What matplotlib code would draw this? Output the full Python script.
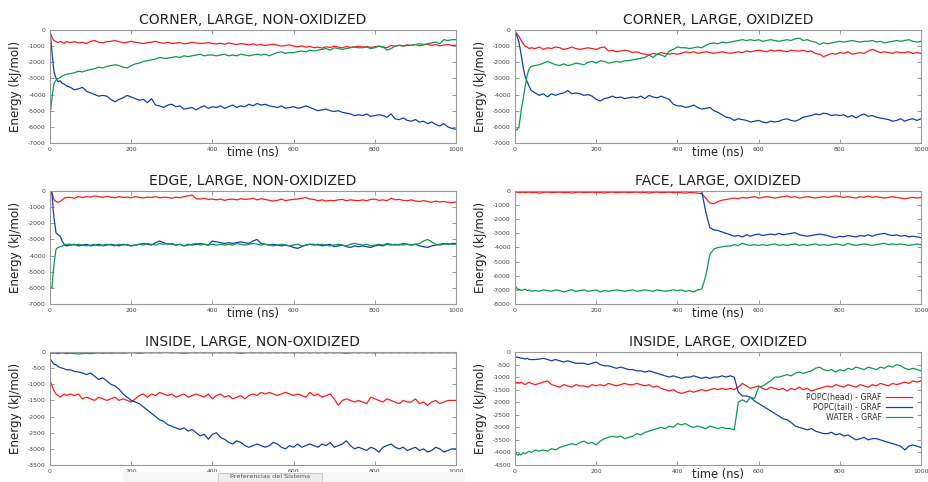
import numpy as np
import matplotlib
matplotlib.use("Agg")
import matplotlib.pyplot as plt
from matplotlib.patches import Rectangle

plt.rcParams['axes.unicode_minus'] = False
plt.rcParams['font.family'] = ['DejaVu Sans']

# time axis (ns): dense start, then every 10 ns
t_early = [0, 2, 5, 8, 10, 15, 20, 25, 30, 35, 40]
time = np.array(t_early + list(range(50, 1001, 10)))

labels = ["POPC(head) - GRAF", "POPC(tail) - GRAF", "WATER - GRAF"]
titles = ["CORNER, LARGE, NON-OXIDIZED", "CORNER, LARGE, OXIDIZED",
          "EDGE, LARGE, NON-OXIDIZED", "FACE, LARGE, OXIDIZED",
          "INSIDE, LARGE, NON-OXIDIZED", "INSIDE, LARGE, OXIDIZED"]
ylims = [(-7000, 0), (-7000, 0), (-7000, 0), (-8000, 0), (-3500, 0), (-4500, 0)]
ysteps = [1000, 1000, 1000, 1000, 500, 500]

# ---- CORNER, NON-OXIDIZED ----
cnl_head = [-100, -250, -450, -600, -650, -720, -780, -700, -760, -820, -720,
   -780, -720, -800, -760, -840, -700, -650, -760, -800, -720, -700, -650,
   -720, -800, -760, -700, -760, -800, -840, -780, -760, -700, -780, -820,
   -760, -840, -800, -780, -860, -820, -760, -800, -840, -820, -780, -840,
   -860, -820, -880, -800, -860, -900, -840, -880, -920, -860, -940, -900,
   -960, -920, -880, -940, -1000, -960, -920, -1000, -1040, -980, -1060, -1020,
   -1100, -1060, -1120, -1040, -1080, -1000, -1060, -1100, -1020, -1080, -1040, -1000,
   -1060, -1020, -1080, -1040, -1000, -1060, -1100, -960, -1000, -940, -980, -920,
   -960, -900, -980, -920, -880, -960, -900, -980, -940, -900, -960, -940]
cnl_tail = [-100, -600, -1400, -2200, -2600, -3000, -3200, -3150, -3300, -3350, -3450,
   -3550, -3700, -3650, -3550, -3800, -3900, -4000, -4100, -4050, -4100, -4300, -4450,
   -4300, -4200, -4050, -4150, -4250, -4350, -4300, -4500, -4250, -4650, -4700, -4800,
   -4650, -4600, -4750, -4700, -4900, -4850, -4800, -4950, -4800, -4700, -4850, -4750,
   -4800, -4700, -4850, -4750, -4650, -4800, -4700, -4750, -4600, -4700, -4550, -4650,
   -4600, -4700, -4750, -4800, -4700, -4850, -4800, -4750, -4850, -4800, -4700, -4800,
   -4900, -5000, -4950, -4900, -5000, -5050, -5000, -5100, -5150, -5200, -5300, -5250,
   -5300, -5200, -5350, -5300, -5250, -5300, -5400, -5200, -5500, -5550, -5450, -5600,
   -5650, -5550, -5700, -5650, -5800, -5700, -5850, -5950, -5800, -6000, -6100, -6150]
cnl_water = [-5450, -4900, -4200, -3600, -3300, -3100, -3000, -2950, -2850, -2800, -2750,
   -2700, -2650, -2550, -2600, -2500, -2450, -2400, -2300, -2350, -2250, -2200, -2150,
   -2200, -2300, -2350, -2200, -2100, -2050, -1950, -1900, -1850, -1800, -1700, -1750,
   -1750, -1700, -1650, -1700, -1600, -1650, -1600, -1550, -1500, -1600, -1550, -1550,
   -1600, -1550, -1500, -1600, -1550, -1600, -1500, -1550, -1600, -1550, -1500, -1550,
   -1500, -1600, -1500, -1400, -1350, -1450, -1400, -1400, -1350, -1300, -1350, -1250,
   -1300, -1250, -1200, -1150, -1250, -1100, -1150, -1200, -1150, -1100, -1050, -1100,
   -1100, -1050, -1150, -1100, -1000, -1050, -1250, -1150, -1000, -950, -1000, -950,
   -950, -900, -850, -900, -850, -800, -750, -850, -600, -650, -600, -600]

# ---- CORNER, OXIDIZED ----
clo_head = [-100, -150, -250, -350, -400, -650, -850, -1000, -1050, -1150, -1100,
   -1150, -1050, -1200, -1100, -1150, -1050, -1100, -1200, -1150, -1050, -1150, -1200,
   -1150, -1100, -1150, -1200, -1100, -1050, -1300, -1250, -1350, -1300, -1250, -1300,
   -1400, -1350, -1450, -1500, -1550, -1450, -1500, -1400, -1450, -1500, -1450, -1500,
   -1450, -1350, -1400, -1350, -1450, -1400, -1350, -1400, -1450, -1400, -1350, -1400,
   -1450, -1400, -1350, -1400, -1300, -1350, -1300, -1250, -1300, -1350, -1250, -1300,
   -1250, -1300, -1350, -1250, -1300, -1300, -1250, -1350, -1300, -1450, -1500, -1650,
   -1550, -1450, -1500, -1400, -1450, -1350, -1500, -1450, -1400, -1450, -1300, -1200,
   -1300, -1400, -1350, -1400, -1450, -1350, -1400, -1400, -1350, -1450, -1400, -1450]
clo_tail = [-100, -200, -400, -600, -800, -1500, -2300, -2900, -3200, -3500, -3750,
   -3900, -4050, -3950, -4150, -3950, -4050, -3950, -3900, -3750, -3950, -3900, -3950,
   -4050, -4000, -4100, -4300, -4400, -4250, -4200, -4100, -4200, -4150, -4250, -4200,
   -4150, -4200, -4100, -4250, -4050, -4150, -4200, -4100, -4200, -4300, -4600, -4700,
   -4700, -4800, -4750, -4650, -4800, -4900, -4850, -4800, -5000, -5100, -5250, -5400,
   -5450, -5600, -5500, -5550, -5600, -5700, -5650, -5600, -5700, -5750, -5650, -5700,
   -5650, -5550, -5500, -5600, -5650, -5550, -5400, -5350, -5300, -5200, -5250, -5150,
   -5200, -5300, -5250, -5300, -5250, -5400, -5300, -5450, -5300, -5200, -5350, -5300,
   -5400, -5450, -5500, -5550, -5650, -5600, -5500, -5650, -5550, -5500, -5600, -5500]
clo_water = [-6100, -6150, -6200, -6050, -6000, -5000, -4300, -3500, -2800, -2400, -2250,
   -2200, -2150, -2050, -1950, -2050, -2150, -2200, -2100, -2200, -2150, -2050, -2100,
   -2150, -2000, -1950, -2050, -1900, -1950, -2050, -2000, -1950, -2000, -1900, -1900,
   -1850, -1800, -1750, -1700, -1550, -1700, -1500, -1550, -1650, -1300, -1200, -1050,
   -1100, -1100, -1150, -1100, -1050, -1100, -950, -850, -800, -850, -750, -800,
   -750, -700, -650, -600, -650, -600, -650, -600, -700, -650, -600, -650,
   -700, -650, -600, -650, -550, -500, -650, -600, -700, -750, -900, -800,
   -850, -800, -750, -700, -750, -700, -650, -700, -750, -700, -700, -650,
   -750, -700, -800, -750, -700, -650, -700, -650, -600, -700, -750, -700]

# ---- EDGE, NON-OXIDIZED ----
enl_head = [0, -50, -100, -400, -550, -650, -700, -650, -550, -450, -400,
   -400, -450, -350, -400, -350, -380, -300, -350, -400, -330, -380, -420,
   -350, -400, -380, -420, -350, -400, -430, -380, -400, -350, -420, -380,
   -400, -450, -380, -420, -350, -300, -250, -480, -500, -450, -520, -500,
   -550, -500, -580, -520, -500, -550, -480, -520, -500, -450, -550, -480,
   -520, -580, -620, -580, -500, -600, -550, -520, -500, -450, -400, -500,
   -520, -600, -550, -620, -580, -600, -550, -520, -600, -550, -580, -600,
   -550, -600, -520, -500, -580, -550, -600, -450, -550, -520, -580, -600,
   -550, -620, -650, -600, -650, -700, -620, -680, -650, -700, -720, -680]
enl_tail = [0, 0, -200, -1200, -1700, -2600, -2700, -2800, -3100, -3300, -3400,
   -3350, -3300, -3400, -3350, -3300, -3400, -3350, -3300, -3400, -3350, -3300, -3350,
   -3400, -3300, -3350, -3400, -3350, -3300, -3250, -3300, -3350, -3200, -3100, -3200,
   -3300, -3250, -3350, -3300, -3400, -3300, -3350, -3300, -3250, -3300, -3350, -3100,
   -3150, -3200, -3250, -3200, -3250, -3200, -3150, -3200, -3250, -3100, -3000, -3250,
   -3300, -3350, -3300, -3350, -3400, -3350, -3400, -3500, -3550, -3450, -3350, -3300,
   -3350, -3300, -3400, -3350, -3300, -3450, -3400, -3350, -3450, -3500, -3400, -3450,
   -3400, -3450, -3500, -3400, -3350, -3400, -3300, -3350, -3300, -3350, -3250, -3300,
   -3350, -3300, -3400, -3450, -3500, -3400, -3350, -3300, -3250, -3300, -3250, -3250]
enl_water = [-5900, -6000, -6000, -5000, -4500, -3600, -3500, -3450, -3400, -3350, -3300,
   -3300, -3350, -3300, -3350, -3400, -3350, -3300, -3400, -3350, -3300, -3350, -3400,
   -3300, -3350, -3300, -3400, -3350, -3300, -3350, -3250, -3300, -3350, -3250, -3300,
   -3250, -3300, -3350, -3300, -3400, -3350, -3300, -3250, -3350, -3300, -3350, -3300,
   -3350, -3300, -3350, -3300, -3350, -3250, -3300, -3350, -3300, -3250, -3300, -3350,
   -3300, -3350, -3400, -3350, -3300, -3350, -3400, -3350, -3300, -3400, -3350, -3300,
   -3300, -3350, -3300, -3350, -3400, -3350, -3300, -3350, -3400, -3300, -3250, -3300,
   -3350, -3300, -3400, -3350, -3300, -3350, -3250, -3300, -3350, -3300, -3350, -3300,
   -3350, -3300, -3250, -3100, -3000, -3150, -3300, -3350, -3300, -3250, -3300, -3300]

# ---- FACE, OXIDIZED ----
flo_head = [-50, -80, -100, -80, -120, -100, -80, -120, -100, -80, -120,
   -100, -150, -100, -80, -120, -100, -80, -120, -100, -150, -100, -80,
   -120, -100, -80, -120, -100, -140, -100, -80, -120, -100, -80, -120,
   -100, -80, -120, -100, -140, -100, -80, -120, -100, -80, -120, -100,
   -120, -150, -100, -120, -150, -200, -500, -850, -900, -750, -650, -600,
   -550, -500, -550, -450, -500, -450, -400, -500, -450, -400, -450, -500,
   -450, -400, -350, -450, -400, -500, -450, -400, -450, -500, -450, -400,
   -450, -400, -350, -400, -450, -400, -450, -500, -400, -450, -350, -450,
   -400, -450, -500, -450, -400, -450, -500, -550, -500, -450, -500, -450]
flo_tail = [-20, -20, -20, -20, -20, -20, -20, -20, -20, -20, -20,
   -20, -20, -20, -20, -20, -20, -20, -20, -20, -20, -20, -20,
   -20, -20, -20, -20, -20, -20, -20, -20, -20, -20, -20, -20,
   -20, -20, -20, -20, -20, -20, -20, -20, -20, -20, -20, -20,
   -20, -20, -20, -20, -20, -50, -1500, -2600, -2750, -2800, -2900, -3000,
   -3100, -3200, -3150, -3250, -3100, -3200, -3100, -3050, -3150, -3100, -3050, -3100,
   -3000, -3100, -3050, -3000, -2950, -3100, -3150, -3200, -3150, -3100, -3050, -3100,
   -3150, -3250, -3300, -3200, -3250, -3150, -3200, -3250, -3150, -3200, -3100, -3200,
   -3100, -3050, -3000, -3100, -3150, -3100, -3200, -3150, -3250, -3200, -3250, -3300]
flo_water = [-6600, -6800, -6900, -7000, -6950, -7050, -7000, -6950, -7050, -7000, -7100,
   -7050, -7100, -7000, -7050, -7100, -7000, -7050, -7150, -7050, -7000, -7100, -7050,
   -7000, -7100, -7050, -7000, -7150, -7050, -7100, -7050, -7000, -7050, -7100, -7050,
   -7000, -7100, -7050, -7000, -7050, -7100, -7000, -7050, -7100, -7050, -7000, -7050,
   -7000, -7100, -7050, -7150, -7000, -6950, -6000, -4500, -4100, -4000, -3950, -3900,
   -3900, -3800, -3850, -3700, -3800, -3850, -3800, -3850, -3800, -3850, -3800, -3750,
   -3850, -3800, -3850, -3800, -3750, -3850, -3800, -3850, -3800, -3750, -3850, -3800,
   -3850, -3800, -3750, -3800, -3850, -3700, -3800, -3850, -3800, -3750, -3800, -3850,
   -3800, -3750, -3700, -3800, -3750, -3800, -3750, -3800, -3850, -3800, -3750, -3800]

# ---- INSIDE, NON-OXIDIZED ----
inl_head = [-900, -950, -1050, -1150, -1200, -1300, -1350, -1400, -1350, -1300, -1350,
   -1300, -1350, -1300, -1450, -1400, -1450, -1500, -1400, -1450, -1500, -1450, -1400,
   -1500, -1450, -1500, -1550, -1450, -1350, -1300, -1400, -1300, -1350, -1250, -1300,
   -1350, -1300, -1400, -1350, -1300, -1400, -1350, -1300, -1350, -1400, -1300, -1450,
   -1350, -1300, -1400, -1350, -1450, -1400, -1350, -1450, -1350, -1300, -1350, -1250,
   -1300, -1250, -1300, -1350, -1300, -1250, -1300, -1350, -1300, -1350, -1400, -1250,
   -1350, -1300, -1400, -1350, -1300, -1450, -1650, -1500, -1450, -1500, -1550, -1500,
   -1550, -1600, -1400, -1450, -1500, -1550, -1450, -1500, -1550, -1600, -1500, -1550,
   -1550, -1450, -1600, -1550, -1650, -1550, -1500, -1600, -1550, -1500, -1500, -1500]
inl_tail = [-150, -250, -300, -350, -380, -400, -450, -480, -500, -520, -550,
   -550, -600, -620, -650, -700, -650, -750, -850, -800, -900, -1000, -1050,
   -1150, -1300, -1400, -1500, -1550, -1600, -1700, -1800, -1900, -2000, -2100, -2150,
   -2250, -2300, -2350, -2400, -2350, -2450, -2400, -2500, -2600, -2550, -2700, -2550,
   -2500, -2650, -2700, -2800, -2850, -2750, -2800, -2900, -2950, -2900, -2850, -2900,
   -2950, -2900, -2800, -2850, -2950, -3000, -2900, -2950, -2850, -2950, -2900, -2850,
   -2900, -2950, -2850, -2900, -2800, -2950, -2900, -2850, -2750, -2900, -3000, -2950,
   -3000, -3050, -2950, -3000, -3100, -2950, -2900, -2850, -2950, -3000, -2950, -3050,
   -3000, -2950, -3050, -3000, -3100, -3050, -2950, -3000, -3100, -3050, -3000, -3000]
inl_water = [-30, -30, -40, -40, -30, -40, -50, -40, -30, -40, -50,
   -40, -50, -60, -50, -40, -50, -40, -30, -40, -30, -40, -30,
   -30, -40, -30, -20, -30, -40, -30, -20, -30, -20, -30, -20,
   -20, -30, -20, -30, -40, -30, -20, -30, -20, -30, -20, -30,
   -20, -30, -20, -30, -20, -30, -40, -30, -20, -30, -20, -30,
   -20, -30, -20, -30, -20, -30, -20, -30, -20, -30, -20, -30,
   -20, -30, -20, -30, -20, -30, -20, -30, -40, -30, -20, -30,
   -20, -30, -20, -30, -20, -30, -20, -30, -20, -30, -20, -30,
   -20, -30, -20, -30, -20, -30, -20, -30, -20, -30, -20, -30]

# ---- INSIDE, OXIDIZED ----
ino_head = [-1200, -1200, -1250, -1200, -1250, -1200, -1250, -1300, -1250, -1200, -1250,
   -1300, -1250, -1200, -1150, -1300, -1350, -1400, -1300, -1350, -1400, -1300, -1350,
   -1350, -1400, -1300, -1350, -1300, -1350, -1250, -1300, -1350, -1300, -1250, -1300,
   -1300, -1250, -1300, -1350, -1300, -1400, -1350, -1450, -1500, -1550, -1500, -1600,
   -1650, -1600, -1550, -1600, -1550, -1500, -1550, -1500, -1450, -1500, -1450, -1500,
   -1450, -1500, -1400, -1250, -1350, -1450, -1400, -1350, -1450, -1500, -1400, -1450,
   -1500, -1450, -1550, -1450, -1500, -1400, -1500, -1450, -1550, -1500, -1450, -1400,
   -1350, -1400, -1300, -1350, -1400, -1300, -1350, -1400, -1300, -1350, -1400, -1300,
   -1350, -1250, -1300, -1350, -1250, -1300, -1250, -1200, -1250, -1150, -1200, -1150]
ino_tail = [-200, -200, -200, -220, -220, -250, -250, -280, -250, -300, -300,
   -300, -280, -250, -300, -350, -300, -350, -400, -350, -400, -450, -450,
   -450, -500, -450, -400, -500, -550, -550, -600, -650, -600, -650, -700,
   -700, -750, -750, -800, -750, -800, -850, -900, -950, -1000, -950, -1000,
   -1050, -1000, -1000, -950, -1000, -1050, -1000, -1050, -1000, -1000, -950, -1000,
   -950, -1000, -1600, -1750, -1750, -1800, -1950, -2050, -2150, -2250, -2350, -2450,
   -2550, -2650, -2700, -2800, -2950, -3000, -3050, -3100, -3050, -3150, -3200, -3250,
   -3250, -3200, -3300, -3250, -3350, -3300, -3400, -3500, -3450, -3400, -3500, -3450,
   -3450, -3500, -3550, -3600, -3650, -3700, -3750, -3900, -3750, -3700, -3750, -3800]
ino_water = [-3900, -4000, -4100, -4100, -4050, -4100, -4000, -4050, -4000, -3950, -4000,
   -3900, -3950, -3900, -3950, -3850, -3900, -3800, -3750, -3700, -3650, -3700, -3600,
   -3550, -3650, -3600, -3700, -3550, -3450, -3400, -3350, -3400, -3350, -3450, -3400,
   -3350, -3250, -3300, -3200, -3150, -3100, -3050, -3000, -3050, -2950, -3000, -2850,
   -2900, -2850, -2950, -3000, -2950, -3000, -3050, -2950, -3000, -3050, -3000, -3050,
   -3050, -3100, -2000, -1900, -2000, -1800, -1850, -1400, -1350, -1250, -1150, -1000,
   -1000, -950, -900, -950, -850, -800, -850, -800, -750, -650, -600, -700,
   -750, -700, -800, -700, -750, -650, -700, -600, -650, -700, -600, -650,
   -700, -600, -650, -550, -600, -500, -550, -650, -700, -650, -700, -750]

panels = [(cnl_head, cnl_tail, cnl_water), (clo_head, clo_tail, clo_water),
          (enl_head, enl_tail, enl_water), (flo_head, flo_tail, flo_water),
          (inl_head, inl_tail, inl_water), (ino_head, ino_tail, ino_water)]
colors = ['#ff1a1a', '#1040b0', '#0a9a50']

W, H = 929, 482
fig = plt.figure(figsize=(W / 100, H / 100), dpi=100)

lefts = [50, 515]
tops = [30, 191, 352]
aw, ah = 406, 113

for i, series in enumerate(panels):
   r, c = divmod(i, 2)
   ax = fig.add_axes([lefts[c] / W, 1 - (tops[r] + ah) / H, aw / W, ah / H])
   for s, col, lab in zip(series, colors, labels):
      ax.plot(time, s, color=col, lw=0.9, label=lab)
   ax.set_xlim(0, 1000)
   lo, hi = ylims[i]
   ax.set_ylim(lo, hi)
   ax.set_xticks(range(0, 1001, 200))
   ax.set_yticks(range(lo, hi + 1, ysteps[i]))
   ax.tick_params(direction='in', length=3, width=0.6, color='#888888',
                  top=True, right=True, labelsize=4.4, labelcolor='#444444', pad=3)
   for sp in ax.spines.values():
      sp.set_color('#999999')
      sp.set_linewidth(0.8)
   ax.set_title(titles[i], fontsize=10, color='#222222', pad=4)
   # the lower-left x label is hidden behind a screen tooltip in the original
   if i != 4:
      ax.set_xlabel('time (ns)', fontsize=8.3, color='#222222')
      ax.xaxis.set_label_coords(0.5, -0.03)
   ax.set_ylabel('Energy (kJ/mol)', fontsize=8.6, color='#222222')
   ax.yaxis.set_label_coords(-0.068, 0.5)
   if i == 5:
      ax.legend(loc='upper right', bbox_to_anchor=(0.985, 0.665), frameon=False,
                markerfirst=False, fontsize=5.7, handlelength=3.2,
                handletextpad=0.6, labelspacing=0.1, borderaxespad=0,
                labelcolor='#333333')

# screen overlay at the bottom-left
fig.patches.append(Rectangle((123 / W, 0), (465 - 123) / W, 10.5 / H,
                             transform=fig.transFigure, facecolor='#f6f6f6',
                             edgecolor='none', zorder=10))
fig.patches.append(Rectangle((218 / W, 0), (322 - 218) / W, 9.5 / H,
                             transform=fig.transFigure, facecolor='#ececec',
                             edgecolor='#c8c8c8', lw=0.6, zorder=11))
fig.text(270 / W, 3 / H, 'Preferencias del Sistema', fontsize=4.6,
         color='#555555', ha='center', va='bottom', zorder=12)

fig.savefig('out.png', dpi=100)
